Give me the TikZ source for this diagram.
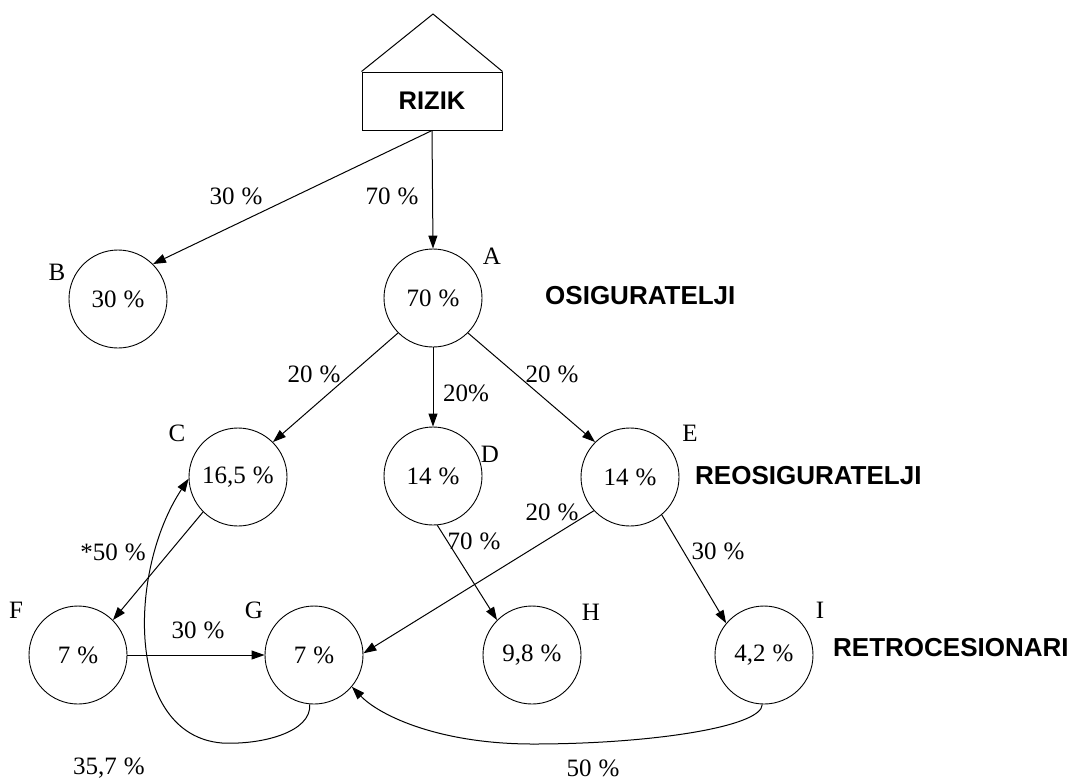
\documentclass[tikz,border=0pt]{standalone}
\usepackage{fontspec}
\setmainfont{Liberation Serif}
\newfontfamily\boldsans{Liberation Sans}
\usetikzlibrary{arrows.meta}
\begin{document}
\begin{tikzpicture}[x=1pt,y=-1pt,
  serif/.style={font={\fontsize{25}{28}\selectfont\spaceskip=0.28em\relax}},
  head/.style={font={\boldsans\bfseries\fontsize{26}{30}\selectfont}, inner sep=0pt},
  pnode/.style={circle, draw, line width=0.9pt, minimum size=98pt, inner sep=0pt, serif},
  lbl/.style={serif, inner sep=0pt},
  arr/.style={line width=1pt, -{Triangle[length=13pt,width=9pt]}},
  curv/.style={line width=1pt}
]
\useasboundingbox (0,0) rectangle (1073,780);

% house
\node[draw, line width=1pt, minimum width=140pt, minimum height=58pt, inner sep=0pt,
      font={\boldsans\bfseries\fontsize{25.5}{28}\selectfont}] (rizik) at (432,101) {RIZIK};
\coordinate (roof) at (433,14);
\draw[line width=1pt] (rizik.north west) -- (roof) -- (rizik.north east);

% circles
\node[pnode] (B) at (118,299) {30 \%};
\node[pnode] (A) at (433,298) {70 \%};
\node[pnode] (C) at (238,477) {16,5 \%};
\node[pnode] (D) at (433,476) {14 \%};
\node[pnode] (E) at (630,477) {14 \%};
\node[pnode] (F) at (78,655) {7 \%};
\node[pnode] (G) at (314,655) {7 \%};
\node[pnode] (H) at (532,655) {9,8 \%};
\node[pnode] (I) at (764,655) {4,2 \%};

% letters
\node[lbl] (lB) at (57,272) {B};
\node[lbl] (lA) at (492,256) {A};
\node[lbl] (lC) at (177,433) {C};
\node[lbl] (lD) at (490,454) {D};
\node[lbl] (lE) at (690,433) {E};
\node[lbl] (lF) at (16,610) {F};
\node[lbl] (lG) at (254,610) {G};
\node[lbl] (lH) at (591,612) {H};
\node[lbl] (lI) at (820,610) {I};

% headings
\node[head, anchor=west] (h1) at (545,296) {OSIGURATELJI};
\node[head, anchor=west] (h2) at (695,476) {REOSIGURATELJI};
\node[head, anchor=west] (h3) at (833,648) {RETROCESIONARI};

% arrows
\draw[arr] (rizik.south) -- (B.45);
\draw[arr] (rizik.south) -- (A.north);
\draw[arr] (A.225) -- (C.45);
\draw[arr] (A.south) -- (D.north);
\draw[arr] (A.315) -- (E.135);
\draw[arr] (C.225) -- (F.45);
\draw[arr] (D.-85) -- (H.135);
\draw[arr] (E.223) -- (G.2);
\draw[arr] (E.-50) -- (I.140);
\draw[arr] (F.east) -- (G.west);
\coordinate (gb) at (222,743);
\coordinate (ib) at (533,744);
\draw[curv] (G.-95) .. controls (312,732) and (262,745) .. (gb);
\draw[arr] (gb) .. controls (125,735) and (128,570) .. (C.182);
\draw[curv] (I.-92) .. controls (762,727) and (650,744) .. (ib);
\draw[arr] (ib) .. controls (440,744) and (380,716) .. (G.-40);

% edge labels
\node[lbl] (e1) at (236,196) {30 \%};
\node[lbl] (e2) at (392,196) {70 \%};
\node[lbl] (e3) at (314,374) {20 \%};
\node[lbl] (e4) at (466,393) {20\%};
\node[lbl] (e5) at (552,374) {20 \%};
\node[lbl] (e6) at (552,512) {20 \%};
\node[lbl] (e7) at (474,541) {70 \%};
\node[lbl] (e8) at (718,551) {30 \%};
\node[lbl] (e9) at (113,552) {*50 \%};
\node[lbl] (e10) at (198,630) {30 \%};
\node[lbl] (e11) at (109,768) {35,7 \%};
\node[lbl] (e12) at (593,768) {50 \%};
\end{tikzpicture}
\end{document}
